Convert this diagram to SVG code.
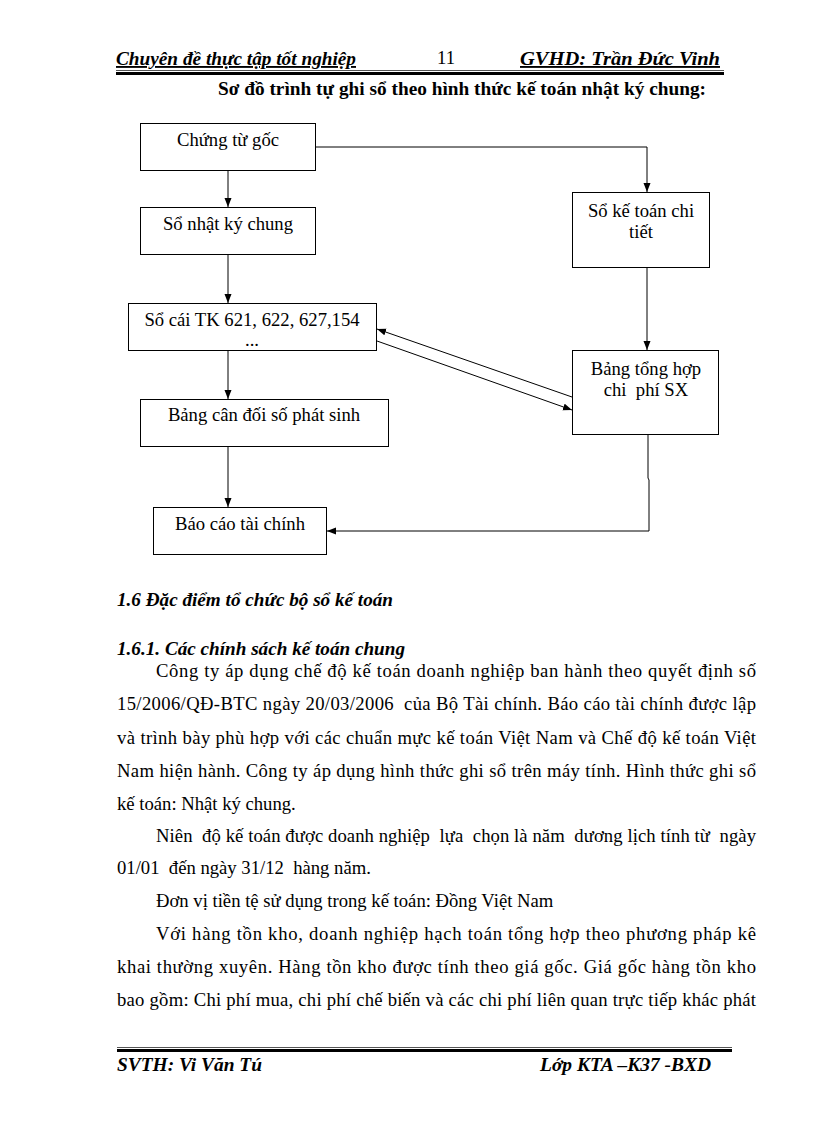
<svg xmlns="http://www.w3.org/2000/svg" width="816" height="1123" viewBox="0 0 816 1123">
<style>
.box{fill:#fff;stroke:#000;stroke-width:1}
.lbl{font-family:"Liberation Serif","Times New Roman",serif;font-size:18.67px;fill:#000;text-anchor:middle}
.con{fill:none;stroke:#000;stroke-width:1}
.body{font-family:"Liberation Serif","Times New Roman",serif;font-size:18.67px;fill:#000}
.hdr{font-family:"Liberation Serif","Times New Roman",serif;font-size:18.67px;font-weight:bold;font-style:italic;fill:#000}
.ttl{font-family:"Liberation Serif","Times New Roman",serif;font-size:18px;font-weight:bold;fill:#000}
</style>
<defs>
<marker id="ah" markerUnits="userSpaceOnUse" markerWidth="10" markerHeight="8" refX="9" refY="3.5" orient="auto">
<path d="M0,0 L9,3.5 L0,7 z" fill="#000"/>
</marker>
</defs>
<rect width="816" height="1123" fill="#fff"/>

<g id="header">
<text class="hdr" x="116" y="65" textLength="240" lengthAdjust="spacingAndGlyphs" text-decoration="underline">Chuyên đề thực tập tốt nghiệp</text>
<text class="body" x="437" y="64" font-size="16">11</text>
<text class="hdr" x="520" y="65" textLength="200" lengthAdjust="spacingAndGlyphs" text-decoration="underline">GVHD: Trần Đức Vinh</text>
<line x1="116" y1="70.5" x2="724" y2="70.5" stroke="#555" stroke-width="1"/>
<line x1="116" y1="73.5" x2="724" y2="73.5" stroke="#000" stroke-width="3"/>
<text class="ttl" x="218" y="95" textLength="488" lengthAdjust="spacingAndGlyphs">Sơ đồ trình tự ghi sổ theo hình thức kế toán nhật ký chung:</text>
</g>

<g id="connectors">
<path class="con" d="M228,171 V207" marker-end="url(#ah)"/>
<path class="con" d="M228,255 V303" marker-end="url(#ah)"/>
<path class="con" d="M228,351 V399" marker-end="url(#ah)"/>
<path class="con" d="M228,446 V507" marker-end="url(#ah)"/>
<path class="con" d="M316,147 H647 V192" marker-end="url(#ah)"/>
<path class="con" d="M647,267 V350" marker-end="url(#ah)"/>
<path class="con" d="M648,434 V478 L649,480 V531 H327" marker-end="url(#ah)"/>
<path class="con" d="M572,397 L377,329" marker-end="url(#ah)"/>
<path class="con" d="M377,341 L572,410" marker-end="url(#ah)"/>
</g>

<g id="n-chungtugoc">
<rect class="box" x="140.5" y="123.5" width="175" height="47"/>
<text class="lbl" x="228" y="146">Chứng từ gốc</text>
</g>
<g id="n-sonhatky">
<rect class="box" x="140.5" y="207.5" width="175" height="47"/>
<text class="lbl" x="228" y="230">Sổ nhật ký chung</text>
</g>
<g id="n-socai">
<rect class="box" x="128.5" y="303.5" width="248" height="47"/>
<text class="lbl" x="252" y="326">Sổ cái TK 621, 622, 627,154</text>
<text class="lbl" x="252" y="346">...</text>
</g>
<g id="n-bangcandoi">
<rect class="box" x="140.5" y="399.5" width="248" height="47"/>
<text class="lbl" x="264" y="421">Bảng cân đối số phát sinh</text>
</g>
<g id="n-baocao">
<rect class="box" x="153.5" y="507.5" width="173" height="47"/>
<text class="lbl" x="240" y="530">Báo cáo tài chính</text>
</g>
<g id="n-sokt">
<rect class="box" x="572.5" y="192.5" width="137" height="75"/>
<text class="lbl" x="641" y="217">Sổ kế toán chi</text>
<text class="lbl" x="641" y="238">tiết</text>
</g>
<g id="n-bangtonghop">
<rect class="box" x="572.5" y="350.5" width="146" height="84"/>
<text class="lbl" x="646" y="375">Bảng tổng hợp</text>
<text class="lbl" x="646" y="396" xml:space="preserve">chi  phí SX</text>
</g>

<g id="text">
<text class="hdr" x="117" y="606" textLength="276" lengthAdjust="spacingAndGlyphs">1.6 Đặc điểm tổ chức bộ sổ kế toán</text>
<text class="hdr" x="117" y="655" textLength="288" lengthAdjust="spacingAndGlyphs">1.6.1. Các chính sách kế toán chung</text>
<text class="body" x="156" y="677" textLength="600" lengthAdjust="spacing">Công ty áp dụng chế độ kế toán doanh nghiệp ban hành theo quyết định số</text>
<text class="body" x="117" y="710" textLength="639" lengthAdjust="spacing" xml:space="preserve">15/2006/QĐ-BTC ngày 20/03/2006  của Bộ Tài chính. Báo cáo tài chính được lập</text>
<text class="body" x="117" y="744" textLength="639" lengthAdjust="spacing">và trình bày phù hợp với các chuẩn mực kế toán Việt Nam và Chế độ kế toán Việt</text>
<text class="body" x="117" y="777" textLength="639" lengthAdjust="spacing">Nam hiện hành. Công ty áp dụng hình thức ghi sổ trên máy tính. Hình thức ghi sổ</text>
<text class="body" x="117" y="810">kế toán: Nhật ký chung.</text>
<text class="body" x="156" y="842" textLength="600" lengthAdjust="spacing" xml:space="preserve">Niên  độ kế toán được doanh nghiệp  lựa  chọn là năm  dương lịch tính từ  ngày</text>
<text class="body" x="117" y="874" xml:space="preserve">01/01  đến ngày 31/12  hàng năm.</text>
<text class="body" x="156" y="907">Đơn vị tiền tệ sử dụng trong kế toán: Đồng Việt Nam</text>
<text class="body" x="156" y="940" textLength="600" lengthAdjust="spacing">Với hàng tồn kho, doanh nghiệp hạch toán tổng hợp theo phương pháp kê</text>
<text class="body" x="117" y="973" textLength="639" lengthAdjust="spacing">khai thường xuyên. Hàng tồn kho được tính theo giá gốc. Giá gốc hàng tồn kho</text>
<text class="body" x="117" y="1006" textLength="639" lengthAdjust="spacing">bao gồm: Chi phí mua, chi phí chế biến và các chi phí liên quan trực tiếp khác phát</text>
</g>

<g id="footer">
<line x1="117" y1="1047.5" x2="732" y2="1047.5" stroke="#555" stroke-width="1"/>
<line x1="117" y1="1050.5" x2="732" y2="1050.5" stroke="#000" stroke-width="3"/>
<text class="hdr" x="117" y="1071" textLength="145" lengthAdjust="spacingAndGlyphs">SVTH: Vi Văn Tú</text>
<text class="hdr" x="540" y="1071" textLength="171" lengthAdjust="spacingAndGlyphs">Lớp KTA –K37 -BXD</text>
</g>
</svg>
